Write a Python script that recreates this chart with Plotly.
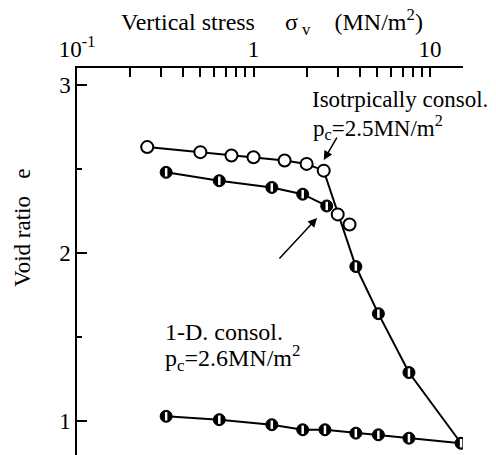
import plotly.graph_objects as go

# Isotropically consolidated (open circles)
iso_x = [0.25, 0.5, 0.75, 1.0, 1.5, 2.0, 2.5]
iso_e = [2.63, 2.60, 2.58, 2.57, 2.55, 2.53, 2.49]
iso_extra_x = [3.0, 3.5]
iso_extra_e = [2.23, 2.17]

# 1-D consolidated (half-filled circles)
od_x = [0.32, 0.64, 1.27, 1.9, 2.6]
od_e = [2.48, 2.43, 2.39, 2.35, 2.28]

virgin_x = [3.8, 5.1, 7.6, 15.0]
virgin_e = [1.92, 1.64, 1.29, 0.87]

unload_x = [15.0, 7.6, 5.1, 3.8, 2.54, 1.9, 1.27, 0.64, 0.32]
unload_e = [0.87, 0.90, 0.92, 0.93, 0.95, 0.95, 0.98, 1.01, 1.03]

major_x = [0.1, 1, 10]
major_x_text = ["10<sup>-1</sup>", "1", "10"]
minor_x = [0.2, 0.3, 0.4, 0.5, 0.6, 0.7, 0.8, 0.9, 2, 3, 4, 5, 6, 7, 8, 9]
major_y = [1, 2, 3]
minor_y = [1.5, 2.5]

SERIF = "Liberation Serif"
FS = 23
LW = 2

fig = go.Figure()

# lines
fig.add_trace(go.Scatter(x=iso_x + virgin_x, y=iso_e + virgin_e, mode="lines",
                         line=dict(color="black", width=LW), hoverinfo="skip"))
fig.add_trace(go.Scatter(x=od_x, y=od_e, mode="lines",
                         line=dict(color="black", width=LW), hoverinfo="skip"))
fig.add_trace(go.Scatter(x=unload_x, y=unload_e, mode="lines",
                         line=dict(color="black", width=LW), hoverinfo="skip"))

# open circles
fig.add_trace(go.Scatter(x=iso_x + iso_extra_x, y=iso_e + iso_extra_e, mode="markers",
                         marker=dict(symbol="circle", size=12, color="white",
                                     line=dict(color="black", width=2))))

# half-filled circles: black disc with white strip
half_x = od_x + virgin_x + unload_x[1:]
half_e = od_e + virgin_e + unload_e[1:]
fig.add_trace(go.Scatter(x=half_x, y=half_e, mode="markers",
                         marker=dict(symbol="circle", size=12, color="black",
                                     line=dict(color="black", width=1))))
fig.add_trace(go.Scatter(x=half_x, y=half_e, mode="markers",
                         marker=dict(symbol="line-ns", size=6,
                                     line=dict(color="white", width=2.5))))

fig.update_layout(
    width=496, height=455,
    margin=dict(l=77, r=33, t=68, b=0),
    paper_bgcolor="white", plot_bgcolor="white",
    showlegend=False,
    font=dict(family=SERIF, size=FS, color="black"),
    xaxis=dict(type="log", range=[-1, 1.187], side="top",
               showline=True, linecolor="black", linewidth=1.5,
               showgrid=False, zeroline=False,
               tickmode="array", tickvals=major_x, ticktext=major_x_text,
               ticks="inside", ticklen=9, tickwidth=1.5, tickcolor="black",
               minor=dict(tickmode="array", tickvals=minor_x, ticks="inside",
                          ticklen=9, tickwidth=1.5, tickcolor="black", showgrid=False),
               tickfont=dict(family=SERIF, size=FS)),
    yaxis=dict(range=[0.8, 3.1], showline=True, linecolor="black", linewidth=1.5,
               showgrid=False, zeroline=False,
               tickmode="array", tickvals=major_y,
               ticks="inside", ticklen=10, tickwidth=1.5, tickcolor="black",
               minor=dict(tickmode="array", tickvals=minor_y, ticks="inside",
                          ticklen=5, tickwidth=1.5, tickcolor="black", showgrid=False),
               tickfont=dict(family=SERIF, size=FS)),
)


def py(p):
    return (455 - p) / 387


def px(p):
    return (p - 77) / 386


fig.add_annotation(text="Vertical stress&nbsp;&nbsp;&nbsp;&nbsp;&nbsp;σ<sub> v</sub>&nbsp;&nbsp;&nbsp;&nbsp;(MN/m<sup>2</sup>)",
                   xref="paper", yref="paper", x=px(272), y=py(22),
                   xanchor="center", yanchor="middle", showarrow=False,
                   font=dict(family=SERIF, size=FS + 1))
fig.add_annotation(text="Void ratio&nbsp;&nbsp;&nbsp;e", textangle=-90,
                   xref="paper", yref="paper", x=px(22), y=py(228),
                   xanchor="center", yanchor="middle", showarrow=False,
                   font=dict(family=SERIF, size=FS))

fig.add_annotation(text="", x=0.398, y=2.553, xref="x", yref="y",
                   ax=14, ay=-24, showarrow=True, arrowhead=2, arrowsize=1.2,
                   arrowwidth=1.5, arrowcolor="black")
fig.add_annotation(text="Isotrpically consol.",
                   xref="paper", yref="paper", x=px(310), y=py(99),
                   xanchor="left", yanchor="middle", showarrow=False,
                   font=dict(family=SERIF, size=FS))
fig.add_annotation(text="p<sub>c</sub>=2.5MN/m<sup>2</sup>",
                   xref="paper", yref="paper", x=px(311), y=py(127),
                   xanchor="left", yanchor="middle", showarrow=False,
                   font=dict(family=SERIF, size=FS))

fig.add_annotation(text="", x=0.36, y=2.208, xref="x", yref="y",
                   ax=-39, ay=42, showarrow=True, arrowhead=2, arrowsize=1.2,
                   arrowwidth=1.5, arrowcolor="black")
fig.add_annotation(text="1-D. consol.",
                   xref="paper", yref="paper", x=px(163), y=py(332),
                   xanchor="left", yanchor="middle", showarrow=False,
                   font=dict(family=SERIF, size=FS + 1))
fig.add_annotation(text="p<sub>c</sub>=2.6MN/m<sup>2</sup>",
                   xref="paper", yref="paper", x=px(163), y=py(358),
                   xanchor="left", yanchor="middle", showarrow=False,
                   font=dict(family=SERIF, size=FS + 1))

fig.write_html("out.html")
